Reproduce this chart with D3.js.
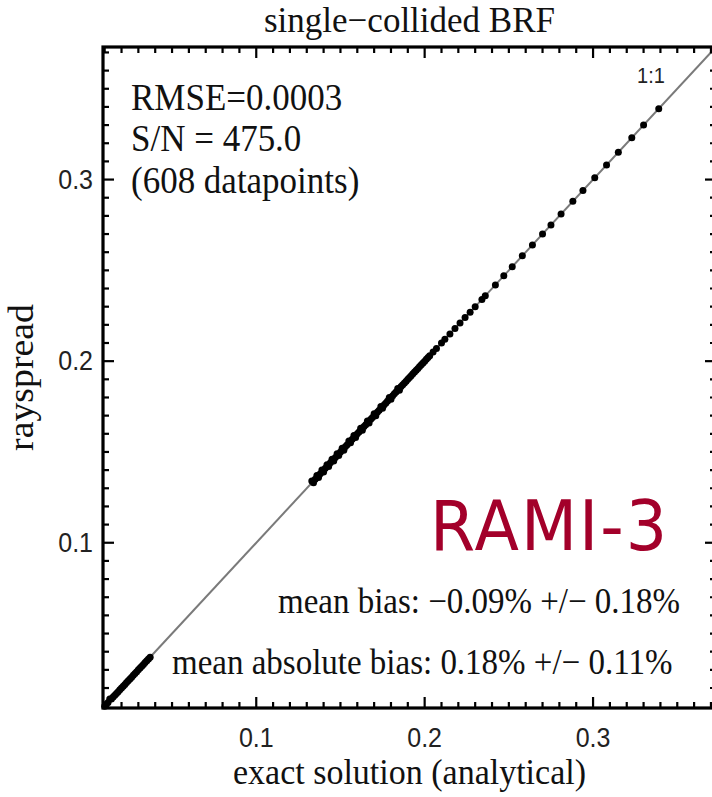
<!DOCTYPE html>
<html>
<head>
<meta charset="utf-8">
<script src="https://cdn.jsdelivr.net/npm/d3@7"></script>
<style>
  html, body { margin: 0; padding: 0; background: #fff; }
  svg { display: block; }
</style>
</head>
<body>
<svg id="chart" width="712" height="797"></svg>
<script>
// Single-collided BRF: rayspread vs. exact analytical solution
const exactSolution = [
  0.010, 0.011, 0.012, 0.013, 0.014, 0.015, 0.016, 0.017, 0.018, 0.019,
  0.020, 0.021, 0.022, 0.023, 0.024, 0.025, 0.026, 0.027, 0.028, 0.029,
  0.030, 0.031, 0.032, 0.033, 0.034, 0.035, 0.036, 0.037,
  0.133, 0.134, 0.135, 0.136, 0.137, 0.138, 0.139, 0.140, 0.141, 0.142,
  0.143, 0.144, 0.145, 0.146, 0.147, 0.148, 0.149, 0.150, 0.151, 0.152,
  0.153, 0.154, 0.155, 0.156, 0.157, 0.158, 0.159, 0.160, 0.161, 0.162,
  0.163, 0.164, 0.165, 0.166, 0.167, 0.168, 0.169, 0.170, 0.171, 0.172,
  0.173, 0.174, 0.175, 0.176, 0.177, 0.178, 0.179, 0.180, 0.181, 0.182,
  0.183, 0.184, 0.185, 0.186, 0.187, 0.188, 0.189, 0.190, 0.191, 0.192,
  0.193, 0.194, 0.195, 0.196, 0.197, 0.198, 0.199, 0.200, 0.201, 0.202,
  0.203, 0.205, 0.207, 0.210, 0.212, 0.215, 0.218, 0.221, 0.224, 0.227,
  0.230, 0.234, 0.236, 0.242, 0.247, 0.252, 0.258, 0.264, 0.270, 0.275,
  0.281, 0.288, 0.294, 0.301, 0.308, 0.315, 0.323, 0.330, 0.339
];
const rayspread = [
  0.010, 0.011, 0.012, 0.014, 0.014, 0.015, 0.016, 0.017, 0.018, 0.019,
  0.020, 0.021, 0.022, 0.023, 0.024, 0.025, 0.026, 0.027, 0.028, 0.029,
  0.030, 0.031, 0.032, 0.033, 0.034, 0.035, 0.036, 0.037,
  0.134, 0.133, 0.135, 0.137, 0.136, 0.138, 0.140, 0.139, 0.141, 0.143,
  0.142, 0.144, 0.146, 0.145, 0.147, 0.149, 0.148, 0.150, 0.152, 0.151,
  0.153, 0.154, 0.156, 0.155, 0.157, 0.159, 0.158, 0.160, 0.161, 0.163,
  0.162, 0.164, 0.165, 0.167, 0.166, 0.168, 0.169, 0.171, 0.170, 0.172,
  0.173, 0.175, 0.174, 0.176, 0.177, 0.178, 0.180, 0.179, 0.181, 0.182,
  0.183, 0.185, 0.184, 0.186, 0.187, 0.188, 0.189, 0.190, 0.191, 0.192,
  0.193, 0.194, 0.195, 0.196, 0.197, 0.198, 0.199, 0.200, 0.201, 0.202,
  0.203, 0.205, 0.207, 0.210, 0.212, 0.215, 0.218, 0.221, 0.224, 0.227,
  0.230, 0.234, 0.236, 0.242, 0.247, 0.252, 0.258, 0.264, 0.270, 0.275,
  0.281, 0.288, 0.294, 0.301, 0.308, 0.315, 0.323, 0.330, 0.339
];

const axisDomain = [0.009, 0.373];
const majorTicks = [0.1, 0.2, 0.3];
const minorTicks = d3.range(1, 38).map(i => i / 100);
const oneToOne = [axisDomain[0], axisDomain[1]];

const titleText = "single\u2212collided BRF";
const xLabel = "exact solution (analytical)";
const yLabel = "rayspread";
const statsLines = ["RMSE=0.0003", "S/N = 475.0", "(608 datapoints)"];
const biasLines = [
  "mean bias: \u22120.09% +/\u2212 0.18%",
  "mean absolute bias: 0.18% +/\u2212 0.11%"
];
const badgeText = "RAMI-3";

const svg = d3.select("#chart");
const plotLeft = 103, plotRight = 716, plotTop = 47, plotBottom = 708;
const stretch = 1.08;
const serif = "'Liberation Serif', 'Times New Roman', serif";
const sans = "'Liberation Sans', Arial, sans-serif";

const x = d3.scaleLinear().domain(axisDomain).range([plotLeft, plotRight]);
const y = d3.scaleLinear().domain(axisDomain).range([plotBottom, plotTop]);

svg.append("rect").attr("width", 712).attr("height", 797).attr("fill", "#fff");

// 1:1 reference line
svg.append("line")
  .attr("x1", x(oneToOne[0])).attr("y1", y(oneToOne[0]))
  .attr("x2", x(oneToOne[1])).attr("y2", y(oneToOne[1]))
  .attr("stroke", "#7a7a7a").attr("stroke-width", 2);

// data points
svg.append("g").selectAll("circle")
  .data(exactSolution.map((v, i) => [v, rayspread[i]]))
  .join("circle")
  .attr("cx", d => x(d[0]))
  .attr("cy", d => y(d[1]))
  .attr("r", 3.5)
  .attr("fill", "#000");

// ticks on all four sides, pointing inward
const tickG = svg.append("g").attr("stroke", "#000").attr("stroke-width", 2.2);
const isMajor = v => majorTicks.some(m => Math.abs(m - v) < 1e-9);
minorTicks.forEach(v => {
  const len = isMajor(v) ? 11 : 6;
  tickG.append("line").attr("x1", x(v)).attr("x2", x(v)).attr("y1", plotBottom).attr("y2", plotBottom - len);
  tickG.append("line").attr("x1", x(v)).attr("x2", x(v)).attr("y1", plotTop).attr("y2", plotTop + len);
  tickG.append("line").attr("y1", y(v)).attr("y2", y(v)).attr("x1", plotLeft).attr("x2", plotLeft + len);
  tickG.append("line").attr("y1", y(v)).attr("y2", y(v)).attr("x1", plotRight).attr("x2", plotRight - len);
});

// frame
svg.append("rect")
  .attr("x", plotLeft).attr("y", plotTop)
  .attr("width", plotRight - plotLeft).attr("height", plotBottom - plotTop)
  .attr("fill", "none").attr("stroke", "#000").attr("stroke-width", 3.2);

// helper for vertically stretched text
function label(tx, ty, str, opts) {
  return svg.append("text")
    .attr("transform", `translate(${tx},${ty}) scale(1,${opts.stretch || stretch})`)
    .attr("font-family", opts.family || serif)
    .attr("font-size", opts.size)
    .attr("fill", opts.fill || "#111")
    .attr("text-anchor", opts.anchor || "start")
    .attr("letter-spacing", opts.spacing || 0)
    .text(str);
}

// tick labels
majorTicks.forEach(v => {
  label(x(v), 747, String(v), { family: sans, size: 25, anchor: "middle", fill: "#222" });
  label(93, y(v) + 9, String(v), { family: sans, size: 25, anchor: "end", fill: "#222" });
});

// title and axis titles
label((plotLeft + plotRight) / 2, 32, titleText, { size: 35, anchor: "middle", stretch: 1.0 });
label((plotLeft + plotRight) / 2, 784, xLabel, { size: 34, anchor: "middle" });
svg.append("text")
  .attr("transform", `translate(33,${(plotTop + plotBottom) / 2}) rotate(-90) scale(${stretch},1)`)
  .attr("font-family", serif).attr("font-size", 35)
  .attr("fill", "#111").attr("text-anchor", "middle")
  .text(yLabel);

// statistics block
const statBase = [110, 151, 193];
statsLines.forEach((s, i) => label(131, statBase[i], s, { size: 35 }));

// bias summary
label(278, 613, biasLines[0], { size: 33 });
label(172, 674, biasLines[1], { size: 33 });

// line annotation
label(651, 83, "1:1", { family: sans, size: 20, anchor: "middle", fill: "#222" });

// campaign badge
label(430, 550, badgeText, { family: "'DejaVu Sans', sans-serif", size: 65, fill: "#a3002a", spacing: 2 });
</script>
</body>
</html>
